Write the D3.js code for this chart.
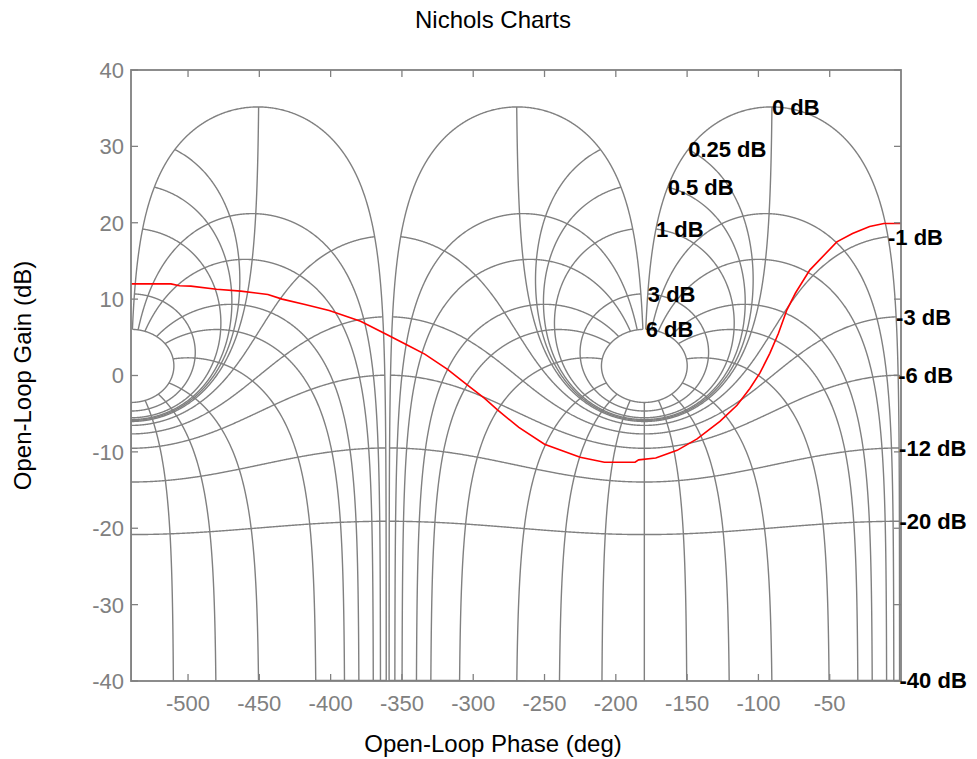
<!DOCTYPE html>
<html><head><meta charset="utf-8">
<script src="https://cdn.jsdelivr.net/npm/d3@7"></script>
<style>
body{margin:0;background:#fff}
text{font-family:"Liberation Sans",Arial,Helvetica,sans-serif}
</style>
</head><body>
<svg id="c" width="977" height="759"></svg>
<script>
// ---- data ----
const gridGainsDb = [6, 3, 1, 0.5, 0.25, 0, -1, -3, -6, -12, -20, -40];
const gridPhasesDeg = [-1, -5, -10, -20, -30, -50, -90, -120, -150, -180,
                       -210, -240, -270, -310, -330, -340, -350, -355, -359];
const xTickValues = [-500, -450, -400, -350, -300, -250, -200, -150, -100, -50];
const yTickValues = [-40, -30, -20, -10, 0, 10, 20, 30, 40];
const loopPhase = [-540, -512, -506, -498, -480, -463, -444, -434, -418, -401, -379, -361, -346, -334,
                   -318, -304, -292, -283, -268, -250, -225, -208, -195, -186.5, -184, -172, -157, -143,
                   -127, -115, -106, -99, -92, -86, -80, -74, -64, -45, -34, -22, -12, 0];
const loopGain  = [12.0, 12.0, 11.75, 11.7, 11.3, 11.05, 10.6, 10.0, 9.3, 8.5, 7.1, 5.4, 3.95, 2.8,
                   0.8, -1.25, -3.0, -4.5, -6.8, -9.0, -10.7, -11.35, -11.35, -11.35, -11.05, -10.8, -9.8, -8.3,
                   -6.0, -3.9, -1.7, 0.3, 2.9, 5.5, 8.6, 10.8, 13.8, 17.5, 18.6, 19.5, 19.9, 19.9];
const phaseCopies = [0, -360];

// ---- layout ----
const L = 131, R = 901, T = 70, B = 681;
const textCenterX = 493;
const gridColor = "#808080";
const svg = d3.select("#c");
const x = d3.scaleLinear().domain([-540, 0]).range([L, R]);
const y = d3.scaleLinear().domain([-40, 40]).range([B, T]);

// closed-loop (M dB, phase a) -> open-loop [phase, gain dB]
function openLoop(mdb, aDeg) {
  const M = Math.pow(10, mdb / 20), a = aDeg * Math.PI / 180;
  const re = 1 - M * Math.cos(a), im = -M * Math.sin(a);
  return [aDeg - Math.atan2(im, re) * 180 / Math.PI, 20 * Math.log10(M / Math.hypot(re, im))];
}
function seq(a, b, s) { const o = []; const n = Math.round((b - a) / s); for (let i = 0; i <= n; i++) o.push(a + i * s); return o; }
const alphaSamples = [].concat(seq(-1, -10, -0.05), seq(-10.5, -349.5, -0.5), seq(-350, -359, -0.05));
const mSamples = [].concat(seq(-80, -5, 0.5), seq(-4.98, -0.5, 0.02), seq(-0.498, 0.5, 0.002), seq(0.52, 6, 0.02));

svg.append("defs").append("clipPath").attr("id", "clip")
  .append("rect").attr("x", L).attr("y", T).attr("width", R - L).attr("height", B - T);

const line = d3.line().x(d => x(d[0])).y(d => y(d[1]));
const g = svg.append("g").attr("clip-path", "url(#clip)");

phaseCopies.forEach(k => {
  gridGainsDb.forEach(m => {
    const pts = alphaSamples.map(a => { const p = openLoop(m, a); return [p[0] + k, p[1]]; });
    g.append("path").attr("d", line(pts)).attr("fill", "none").attr("stroke", gridColor).attr("stroke-width", 1.4);
  });
  gridPhasesDeg.forEach(a => {
    const pts = mSamples.map(m => { const p = openLoop(m, a); return [p[0] + k, p[1]]; });
    g.append("path").attr("d", line(pts)).attr("fill", "none").attr("stroke", gridColor).attr("stroke-width", 1.4);
  });
});

// open-loop response
const loopPts = loopPhase.map((p, i) => [p, loopGain[i]]);
g.append("path").attr("d", line(loopPts)).attr("fill", "none").attr("stroke", "#ff0000").attr("stroke-width", 1.6);

// axes box and ticks
const ax = svg.append("g");
ax.append("rect").attr("x", L).attr("y", T).attr("width", R - L).attr("height", B - T)
  .attr("fill", "none").attr("stroke", gridColor).attr("stroke-width", 1.8);
const tl = 7;
xTickValues.forEach(v => {
  ax.append("line").attr("x1", x(v)).attr("x2", x(v)).attr("y1", B).attr("y2", B - tl).attr("stroke", gridColor).attr("stroke-width", 1.3);
  ax.append("line").attr("x1", x(v)).attr("x2", x(v)).attr("y1", T).attr("y2", T + tl).attr("stroke", gridColor).attr("stroke-width", 1.3);
  ax.append("text").attr("x", x(v)).attr("y", B + 30).attr("text-anchor", "middle")
    .attr("font-size", 22).attr("fill", gridColor).text(v);
});
yTickValues.forEach(v => {
  ax.append("line").attr("x1", L).attr("x2", L + tl).attr("y1", y(v)).attr("y2", y(v)).attr("stroke", gridColor).attr("stroke-width", 1.3);
  ax.append("line").attr("x1", R).attr("x2", R - tl).attr("y1", y(v)).attr("y2", y(v)).attr("stroke", gridColor).attr("stroke-width", 1.3);
  ax.append("text").attr("x", L - 7).attr("y", y(v)).attr("dy", "0.36em").attr("text-anchor", "end")
    .attr("font-size", 22).attr("fill", gridColor).text(v);
});

// gain contour labels
gridGainsDb.forEach(m => {
  const p = openLoop(m, -1);
  svg.append("text").attr("x", x(p[0])).attr("y", y(p[1])).attr("dy", "0.36em")
    .attr("font-size", 22).attr("font-weight", "bold").attr("fill", "#000").text(m + " dB");
});

// titles
svg.append("text").attr("x", textCenterX).attr("y", 28).attr("text-anchor", "middle")
  .attr("font-size", 24).attr("fill", "#000").text("Nichols Charts");
svg.append("text").attr("x", textCenterX).attr("y", 752).attr("text-anchor", "middle")
  .attr("font-size", 24).attr("fill", "#000").text("Open-Loop Phase (deg)");
svg.append("text").attr("transform", `translate(31,${(T + B) / 2}) rotate(-90)`).attr("text-anchor", "middle")
  .attr("font-size", 24).attr("fill", "#000").text("Open-Loop Gain (dB)");
</script>
</body></html>
